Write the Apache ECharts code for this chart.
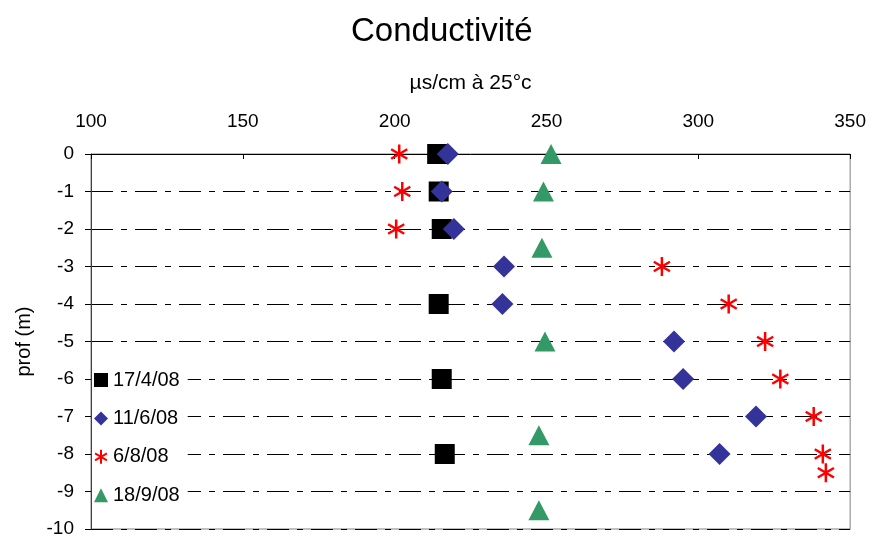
<!DOCTYPE html>
<html>
<head>
<meta charset="utf-8">
<script src="https://cdn.jsdelivr.net/npm/echarts@6/dist/echarts.min.js"></script>
<style>
html, body { margin: 0; padding: 0; background: #fff; }
#chart { width: 869px; height: 539px; }
</style>
</head>
<body>
<div id="chart"></div>
<script>
// depths (m) and conductivity (µs/cm) for each sampling date
var depthApr = [0, -1, -2, -4, -6, -8];
var condApr = [214, 214.5, 215.5, 214.5, 215.5, 216.5];

var depthJun = [0, -1, -2, -3, -4, -5, -6, -7, -8];
var condJun = [217.5, 215.5, 219.5, 236, 235.5, 292, 295, 319, 307];

var depthAug = [0, -1, -2, -3, -4, -5, -6, -7, -8, -8.5];
var condAug = [201.5, 202.5, 200.5, 288, 310, 322, 327, 338, 341, 342];

var depthSep = [0, -1, -2.5, -5, -7.5, -9.5];
var condSep = [251.5, 249, 248.5, 249.5, 247.5, 247.5];

var seriesNames = ['17/4/08', '11/6/08', '6/8/08', '18/9/08'];
var xTicks = [100, 150, 200, 250, 300, 350];

function pairs(xs, ys) {
    var out = [];
    for (var i = 0; i < xs.length; i++) out.push([xs[i], ys[i]]);
    return out;
}

var starPath = 'path://M10,0 L10,20 M1.5,5 L18.5,15 M1.5,15 L18.5,5';
var FONT = 'Liberation Sans, Arial, sans-serif';

var chart = echarts.init(document.getElementById('chart'));
chart.setOption({
    animation: false,
    backgroundColor: '#fff',
    title: {
        text: 'Conductivité',
        left: 346,
        top: 10,
        textStyle: { fontFamily: FONT, fontSize: 33, fontWeight: 'normal', color: '#000' }
    },
    legend: {
        orient: 'vertical',
        left: 92,
        top: 368,
        padding: [2, 8, 2, 2],
        backgroundColor: '#fff',
        itemWidth: 14,
        itemHeight: 14,
        itemGap: 18.4,
        textStyle: { fontFamily: FONT, fontSize: 20, color: '#000' },
        data: seriesNames
    },
    grid: {
        left: 91, right: 18, top: 154, bottom: 10,
        show: true, borderColor: '#808080', borderWidth: 1
    },
    xAxis: {
        type: 'value',
        position: 'top',
        min: xTicks[0],
        max: xTicks[xTicks.length - 1],
        interval: 50,
        name: 'µs/cm à 25°c',
        nameLocation: 'middle',
        nameGap: 60,
        nameTextStyle: { fontFamily: FONT, fontSize: 21, color: '#000' },
        axisLine: { show: true, lineStyle: { color: '#000', width: 1 } },
        axisTick: { show: true, inside: true, length: 5, lineStyle: { color: '#000' } },
        axisLabel: { fontFamily: FONT, fontSize: 19, color: '#000', margin: 23 },
        splitLine: { show: false }
    },
    yAxis: {
        type: 'value',
        min: -10,
        max: 0,
        interval: 1,
        name: 'prof (m)',
        nameLocation: 'middle',
        nameGap: 57,
        nameRotate: 90,
        nameTextStyle: { fontFamily: FONT, fontSize: 20, color: '#000' },
        axisLine: { show: true, onZero: false, lineStyle: { color: '#404040', width: 1 } },
        axisTick: { show: true, length: 6, lineStyle: { color: '#000' } },
        axisLabel: { fontFamily: FONT, fontSize: 19, color: '#000', margin: 17 },
        splitLine: {
            show: true,
            lineStyle: { color: '#000', width: 1, type: [22, 8, 6, 8] }
        }
    },
    series: [
        {
            name: seriesNames[0],
            type: 'scatter',
            symbol: 'rect',
            symbolSize: 20,
            itemStyle: { color: '#000000', opacity: 1 },
            data: pairs(condApr, depthApr)
        },
        {
            name: seriesNames[1],
            type: 'scatter',
            symbol: 'diamond',
            symbolSize: [22, 22],
            itemStyle: { color: '#333399', opacity: 1 },
            data: pairs(condJun, depthJun)
        },
        {
            name: seriesNames[2],
            type: 'scatter',
            symbol: starPath,
            symbolSize: 19,
            symbolKeepAspect: true,
            itemStyle: { color: 'rgba(0,0,0,0)', borderColor: '#ff0000', borderWidth: 2.5, opacity: 1 },
            data: pairs(condAug, depthAug)
        },
        {
            name: seriesNames[3],
            type: 'scatter',
            symbol: 'triangle',
            symbolSize: [21, 20],
            itemStyle: { color: '#339966', opacity: 1 },
            data: pairs(condSep, depthSep)
        }
    ]
});
</script>
</body>
</html>
